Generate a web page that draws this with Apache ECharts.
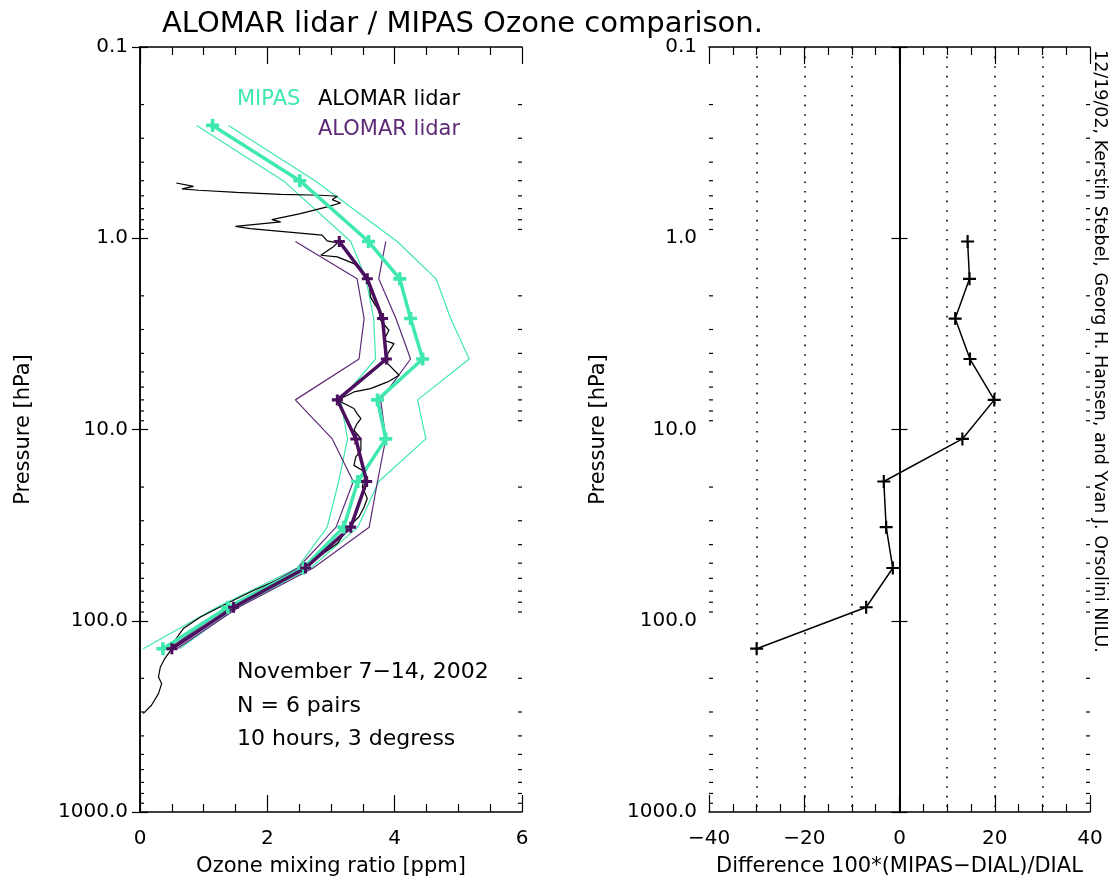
<!DOCTYPE html>
<html>
<head>
<meta charset="utf-8">
<script src="https://cdn.jsdelivr.net/npm/echarts@6/dist/echarts.min.js"></script>
<style>
  html, body { margin: 0; padding: 0; background: #fff; }
  #chart { width: 1110px; height: 887px; }
</style>
</head>
<body>
<div id="chart"></div>
<script>
// MIPAS profile (mean and +/- error), pressure in hPa, ozone in ppm
const mipasPressure = [0.257, 0.50, 1.04, 1.63, 2.63, 4.28, 7.0, 11.2, 18.7, 32.4, 53, 85, 140];
const mipasOzone = [1.14, 2.51, 3.59, 4.08, 4.25, 4.44, 3.73, 3.86, 3.42, 3.20, 2.57, 1.38, 0.36];
const mipasLow = [0.89, 2.25, 3.31, 3.55, 3.67, 3.70, 3.15, 3.26, 3.12, 2.94, 2.47, 1.21, 0.05];
const mipasHigh = [1.39, 2.75, 4.04, 4.65, 4.88, 5.17, 4.36, 4.49, 3.75, 3.42, 2.68, 1.52, 0.62];

// ALOMAR lidar mean on MIPAS levels (+/- error)
const lidarPressure = [1.04, 1.63, 2.63, 4.28, 7.0, 11.2, 18.7, 32.4, 53, 85, 140];
const lidarOzone = [3.13, 3.57, 3.81, 3.87, 3.10, 3.39, 3.56, 3.31, 2.60, 1.47, 0.50];
const lidarLow = [2.44, 3.41, 3.52, 3.44, 2.44, 3.02, 3.35, 3.08, 2.48, 1.38, 0.45];
const lidarHigh = [3.86, 3.75, 4.02, 4.25, 3.78, 3.86, 3.73, 3.60, 2.72, 1.55, 0.58];

// difference 100*(MIPAS-DIAL)/DIAL
const diffPercent = [14.3, 14.7, 11.7, 14.8, 19.9, 13.2, -3.3, -2.8, -1.4, -7.0, -30.0];

// high resolution lidar profile
const profilePressure = [0.514, 0.535, 0.552, 0.561, 0.575, 0.589, 0.596, 0.603, 0.628, 0.654, 0.686, 0.743, 0.799, 0.821, 0.866, 0.890, 0.938, 0.964, 1.032, 1.058, 1.119, 1.227, 1.252, 1.357, 1.47, 1.726, 2.026, 2.196, 2.379, 2.685, 3.027, 3.415, 3.554, 4.009, 4.52, 5.203, 5.64, 6.11, 6.36, 7.03, 7.47, 7.77, 8.26, 8.77, 9.31, 10.09, 11.16, 12.84, 13.92, 15.4, 16.35, 17.7, 19.95, 22.96, 25.4, 28.6, 32.3, 39.5, 45.5, 52.3, 60.2, 69.3, 83.0, 95.5, 109.9, 126.5, 139.9, 157.7, 174.4, 196.7, 213.1, 240.4, 276.6, 305.8];
const profileOzone = [0.57, 0.84, 0.66, 0.92, 1.52, 2.21, 2.84, 3.10, 3.02, 3.15, 2.94, 2.52, 2.07, 2.21, 1.50, 1.73, 2.47, 2.86, 2.94, 3.10, 3.02, 2.84, 3.10, 3.36, 3.47, 3.60, 3.62, 3.68, 3.75, 3.78, 3.91, 3.83, 3.99, 3.89, 3.89, 4.07, 3.89, 3.62, 3.36, 3.10, 3.26, 3.36, 3.41, 3.47, 3.41, 3.36, 3.47, 3.47, 3.39, 3.36, 3.49, 3.53, 3.49, 3.57, 3.52, 3.44, 3.28, 3.10, 2.84, 2.57, 2.21, 1.79, 1.31, 0.95, 0.68, 0.55, 0.50, 0.39, 0.32, 0.29, 0.34, 0.29, 0.18, 0.05];

const diffGridLines = [-30, -20, -10, 10, 20, 30];

const TEAL = '#3ee8ae';
const PURPLE = '#4b0f5e';
const PURPLE_THIN = '#5e2a78';
const FONT = 'DejaVu Sans';

const zip = (xs, ps) => xs.map((v, i) => [v, ps[i]]);

// log minor ticks 2..9 per decade
const minorPressures = [];
[0.1, 1, 10, 100].forEach(d => { for (let k = 2; k <= 9; k++) minorPressures.push(+(d * k).toPrecision(3)); });

const plusThin = 'path://M-1,-6H1V-1H6V1H1V6H-1V1H-6V-1H-1Z';
const plusThick = 'path://M-1.8,-6.5H1.8V-1.8H6.5V1.8H1.8V6.5H-1.8V1.8H-6.5V-1.8H-1.8Z';

const minorTickSeries = (xi, yi, xmin, xmax) => ({
  type: 'custom',
  xAxisIndex: xi,
  yAxisIndex: yi,
  silent: true,
  clip: false,
  data: minorPressures.map(p => [xmin, p]),
  renderItem: (params, api) => {
    const p = api.value(1);
    const l = api.coord([xmin, p]);
    const r = api.coord([xmax, p]);
    return {
      type: 'group',
      children: [
        { type: 'line', shape: { x1: l[0], y1: l[1], x2: l[0] + 4, y2: l[1] }, style: { stroke: '#000', lineWidth: 1.2 } },
        { type: 'line', shape: { x1: r[0] - 4, y1: r[1], x2: r[0], y2: r[1] }, style: { stroke: '#000', lineWidth: 1.2 } }
      ]
    };
  }
});

const axisLine = { show: true, lineStyle: { color: '#000', width: 1.5 } };
const xTick = { show: true, inside: true, length: 17, lineStyle: { color: '#000', width: 1.2 } };
const xMinor = { show: true, splitNumber: 4, length: 8, lineStyle: { color: '#000', width: 1.2 } };
const yTick = { show: true, inside: true, length: 8, lineStyle: { color: '#000', width: 1.2 } };
const labelStyle = { color: '#000', fontSize: 20, fontFamily: FONT };
const nameStyle = { color: '#000', fontSize: 21, fontFamily: FONT };
const minusFmt = v => String(v).replace('-', '\u2212');

const chart = echarts.init(document.getElementById('chart'));
chart.setOption({
  animation: false,
  backgroundColor: '#fff',
  title: {
    text: 'ALOMAR lidar / MIPAS Ozone comparison.',
    left: 157,
    top: 5,
    textStyle: { color: '#000', fontSize: 29, fontWeight: 'normal', fontFamily: FONT }
  },
  grid: [
    { left: 140, top: 47, width: 382, height: 765 },
    { left: 709, top: 47, width: 381, height: 765 }
  ],
  xAxis: [
    {
      gridIndex: 0, type: 'value', min: 0, max: 6, interval: 2, position: 'bottom',
      axisLine, axisTick: xTick, minorTick: xMinor, splitLine: { show: false },
      axisLabel: { ...labelStyle, margin: 17, formatter: minusFmt },
      name: 'Ozone mixing ratio [ppm]', nameLocation: 'middle', nameGap: 44, nameTextStyle: nameStyle
    },
    {
      gridIndex: 0, type: 'value', min: 0, max: 6, interval: 2, position: 'top',
      axisLine, axisTick: xTick, minorTick: xMinor, splitLine: { show: false }, axisLabel: { show: false }
    },
    {
      gridIndex: 1, type: 'value', min: -40, max: 40, interval: 20, position: 'bottom',
      axisLine, axisTick: xTick, minorTick: xMinor, splitLine: { show: false },
      axisLabel: { ...labelStyle, margin: 17, formatter: minusFmt },
      name: 'Difference 100*(MIPAS\u2212DIAL)/DIAL', nameLocation: 'middle', nameGap: 44, nameTextStyle: nameStyle
    },
    {
      gridIndex: 1, type: 'value', min: -40, max: 40, interval: 20, position: 'top',
      axisLine, axisTick: xTick, minorTick: xMinor, splitLine: { show: false }, axisLabel: { show: false }
    }
  ],
  yAxis: [
    {
      gridIndex: 0, type: 'log', logBase: 10, min: 0.1, max: 1000, inverse: true, position: 'left',
      axisLine, axisTick: yTick, splitLine: { show: false },
      axisLabel: { ...labelStyle, margin: 12, formatter: v => (+v).toFixed(1) },
      name: 'Pressure [hPa]', nameLocation: 'middle', nameRotate: 90, nameGap: 106, nameTextStyle: nameStyle
    },
    {
      gridIndex: 0, type: 'log', logBase: 10, min: 0.1, max: 1000, inverse: true, position: 'right',
      axisLine, axisTick: yTick, splitLine: { show: false }, axisLabel: { show: false }
    },
    {
      gridIndex: 1, type: 'log', logBase: 10, min: 0.1, max: 1000, inverse: true, position: 'left',
      axisLine, axisTick: yTick, splitLine: { show: false },
      axisLabel: { ...labelStyle, margin: 12, formatter: v => (+v).toFixed(1) },
      name: 'Pressure [hPa]', nameLocation: 'middle', nameRotate: 90, nameGap: 100, nameTextStyle: nameStyle
    },
    {
      gridIndex: 1, type: 'log', logBase: 10, min: 0.1, max: 1000, inverse: true, position: 'right',
      axisLine, axisTick: yTick, splitLine: { show: false }, axisLabel: { show: false }
    }
  ],
  series: [
    minorTickSeries(0, 0, 0, 6),
    minorTickSeries(2, 2, -40, 40),
    {
      name: 'MIPAS low', type: 'line', xAxisIndex: 0, yAxisIndex: 0, symbol: 'none',
      data: zip(mipasLow, mipasPressure), lineStyle: { color: TEAL, width: 1.2 }
    },
    {
      name: 'MIPAS high', type: 'line', xAxisIndex: 0, yAxisIndex: 0, symbol: 'none',
      data: zip(mipasHigh, mipasPressure), lineStyle: { color: TEAL, width: 1.2 }
    },
    {
      name: 'lidar low', type: 'line', xAxisIndex: 0, yAxisIndex: 0, symbol: 'none',
      data: zip(lidarLow, lidarPressure), lineStyle: { color: PURPLE_THIN, width: 1.2 }
    },
    {
      name: 'lidar high', type: 'line', xAxisIndex: 0, yAxisIndex: 0, symbol: 'none',
      data: zip(lidarHigh, lidarPressure), lineStyle: { color: PURPLE_THIN, width: 1.2 }
    },
    {
      name: 'ALOMAR profile', type: 'line', xAxisIndex: 0, yAxisIndex: 0, symbol: 'none',
      data: zip(profileOzone, profilePressure), lineStyle: { color: '#000', width: 1.2 }
    },
    {
      name: 'MIPAS', type: 'line', xAxisIndex: 0, yAxisIndex: 0,
      symbol: plusThick, symbolSize: 13, showAllSymbol: true,
      data: zip(mipasOzone, mipasPressure),
      lineStyle: { color: TEAL, width: 3.5 }, itemStyle: { color: TEAL }
    },
    {
      name: 'ALOMAR lidar', type: 'line', xAxisIndex: 0, yAxisIndex: 0,
      symbol: plusThick, symbolSize: 11, showAllSymbol: true,
      data: zip(lidarOzone, lidarPressure),
      lineStyle: { color: PURPLE, width: 3.5 }, itemStyle: { color: PURPLE }
    },
    {
      name: 'Difference', type: 'line', xAxisIndex: 2, yAxisIndex: 2,
      symbol: plusThin, symbolSize: 13, showAllSymbol: true,
      data: zip(diffPercent, lidarPressure),
      lineStyle: { color: '#000', width: 1.5 }, itemStyle: { color: '#000' },
      markLine: {
        silent: true, symbol: 'none', label: { show: false },
        lineStyle: { color: '#000', width: 1.6, type: [1.6, 8] },
        data: diffGridLines.map(v => ({ xAxis: v })).concat([{ xAxis: 0, lineStyle: { type: 'solid', width: 1.6 } }])
      }
    }
  ],
  graphic: [
    { type: 'text', x: 237, y: 100, style: { text: 'MIPAS', fill: TEAL, font: '21px "DejaVu Sans"', textVerticalAlign: 'middle' } },
    { type: 'text', x: 318, y: 100, style: { text: 'ALOMAR lidar', fill: '#000', font: '21px "DejaVu Sans"', textVerticalAlign: 'middle' } },
    { type: 'text', x: 318, y: 130, style: { text: 'ALOMAR lidar', fill: PURPLE_THIN, font: '21px "DejaVu Sans"', textVerticalAlign: 'middle' } },
    { type: 'text', x: 237, y: 672, style: { text: 'November 7\u221214, 2002', fill: '#000', font: '22px "DejaVu Sans"', textVerticalAlign: 'middle' } },
    { type: 'text', x: 237, y: 706, style: { text: 'N = 6 pairs', fill: '#000', font: '22px "DejaVu Sans"', textVerticalAlign: 'middle' } },
    { type: 'text', x: 237, y: 739, style: { text: '10 hours, 3 degress', fill: '#000', font: '22px "DejaVu Sans"', textVerticalAlign: 'middle' } },
    {
      type: 'text', x: 1100, y: 50, rotation: -Math.PI / 2,
      style: { text: '12/19/02, Kerstin Stebel, Georg H. Hansen, and Yvan J. Orsolini NILU.', fill: '#000', font: '17.5px "DejaVu Sans"', textVerticalAlign: 'middle', textAlign: 'left' }
    }
  ]
});
</script>
</body>
</html>
